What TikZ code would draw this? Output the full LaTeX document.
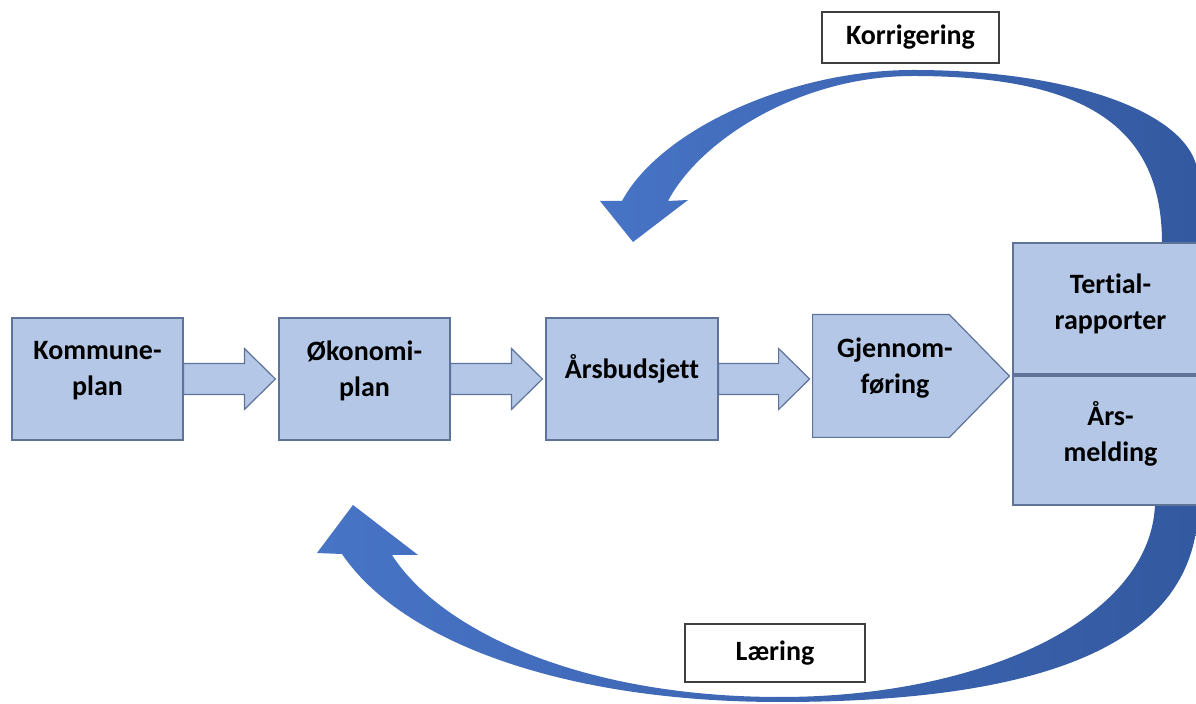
\documentclass[tikz,border=0pt]{standalone}
\usepackage{fontspec}
\setmainfont{Carlito}[Ligatures=NoCommon]
\usetikzlibrary{calc}
\definecolor{boxfill}{HTML}{B4C7E7}
\definecolor{boxline}{HTML}{5F7399}
\definecolor{arrL}{HTML}{4874C6}
\definecolor{arrR}{HTML}{3359A0}
\definecolor{tagline}{HTML}{3F3F3F}
\newcommand\bArr[2]{%
  \draw[barrow] let \p1=(#1.east), \p2=(#2.west) in
    (\x1,\y1+7.75pt) -- (\x2-17pt,\y1+7.75pt) -- (\x2-17pt,\y1+15.25pt)
    -- (\x2-1.5pt,\y1) -- (\x2-17pt,\y1-15.25pt) -- (\x2-17pt,\y1-7.75pt)
    -- (\x1,\y1-7.75pt) -- cycle;}
\begin{document}
\begin{tikzpicture}[x=0.5pt,y=-0.5pt,
  lbl/.style={font=\fontsize{14}{18}\selectfont\bfseries, align=center, text=black, inner sep=0pt},
  box/.style={draw=boxline, line width=0.6pt, fill=boxfill, inner sep=0pt},
  barrow/.style={draw=boxline, line width=0.6pt, fill=boxfill},
  tag/.style={draw=tagline, line width=0.8pt, fill=white, inner sep=0pt,
    font=\fontsize{14}{18}\selectfont\bfseries, text=black},
  curved/.style={left color=arrL, right color=arrR}]
\clip (0,0) rectangle (1196,704);
\fill[white] (0,0) rectangle (1196,704);

% curved feedback arrows
\shade[curved] (622,201) .. controls (660,130) and (790,70) .. (913,70)
  .. controls (1075,70) and (1198,115) .. (1198,178) -- (1198,243) -- (1162,243)
  .. controls (1162,130) and (1090,76) .. (913,76)
  .. controls (800,76) and (700,140) .. (668,201)
  -- (688,200) -- (633,242) -- (600,201) -- cycle;
\shade[curved] (1155,505) -- (1198,505) .. controls (1198,650) and (1030,702) .. (780,702)
  .. controls (560,702) and (400,640) .. (342,554)
  -- (317,553) -- (353,505) -- (418,555) -- (392,555)
  .. controls (440,630) and (580,697) .. (780,697)
  .. controls (980,697) and (1150,620) .. (1155,505) -- cycle;

% boxes
\node[box, minimum width=85.5pt, minimum height=61pt,
  label={[lbl,yshift=4pt]center:Kommune-\\plan}] (kp) at (97.5,379) {};
\node[box, minimum width=85.5pt, minimum height=61pt,
  label={[lbl,yshift=4pt]center:Økonomi-\\plan}] (op) at (364.5,379) {};
\node[box, minimum width=86pt, minimum height=61pt,
  label={[lbl,yshift=5pt]center:Årsbudsjett}] (ab) at (632,379) {};
\node[minimum width=98pt, minimum height=61pt, inner sep=0pt] (gj) at (911,376) {};
\draw[barrow] (gj.north west) -- ([xshift=-30pt]gj.north east) -- (gj.east)
  -- ([xshift=-30pt]gj.south east) -- (gj.south west) -- cycle;
\node[lbl] (gjt) at ([xshift=-8pt,yshift=4pt]gj.center) {Gjennom-\\føring};
\node[box, minimum width=97.5pt, minimum height=65.5pt,
  label={[lbl,yshift=2.5pt]center:Tertial-\\rapporter}] (tr) at (1110.5,308.5) {};
\node[box, minimum width=97.5pt, minimum height=64.5pt,
  label={[lbl,yshift=3.5pt]center:Års-\\melding}] (am) at (1110.5,440.5) {};

\node[tag, minimum width=88.5pt, minimum height=25.5pt] (kor) at (910.5,37.5) {Korrigering};
\node[tag, minimum width=90pt, minimum height=29pt] (lae) at (775,653) {Læring};

% block arrows
\bArr{kp}{op}
\bArr{op}{ab}
\bArr{ab}{gj}
\end{tikzpicture}
\end{document}
